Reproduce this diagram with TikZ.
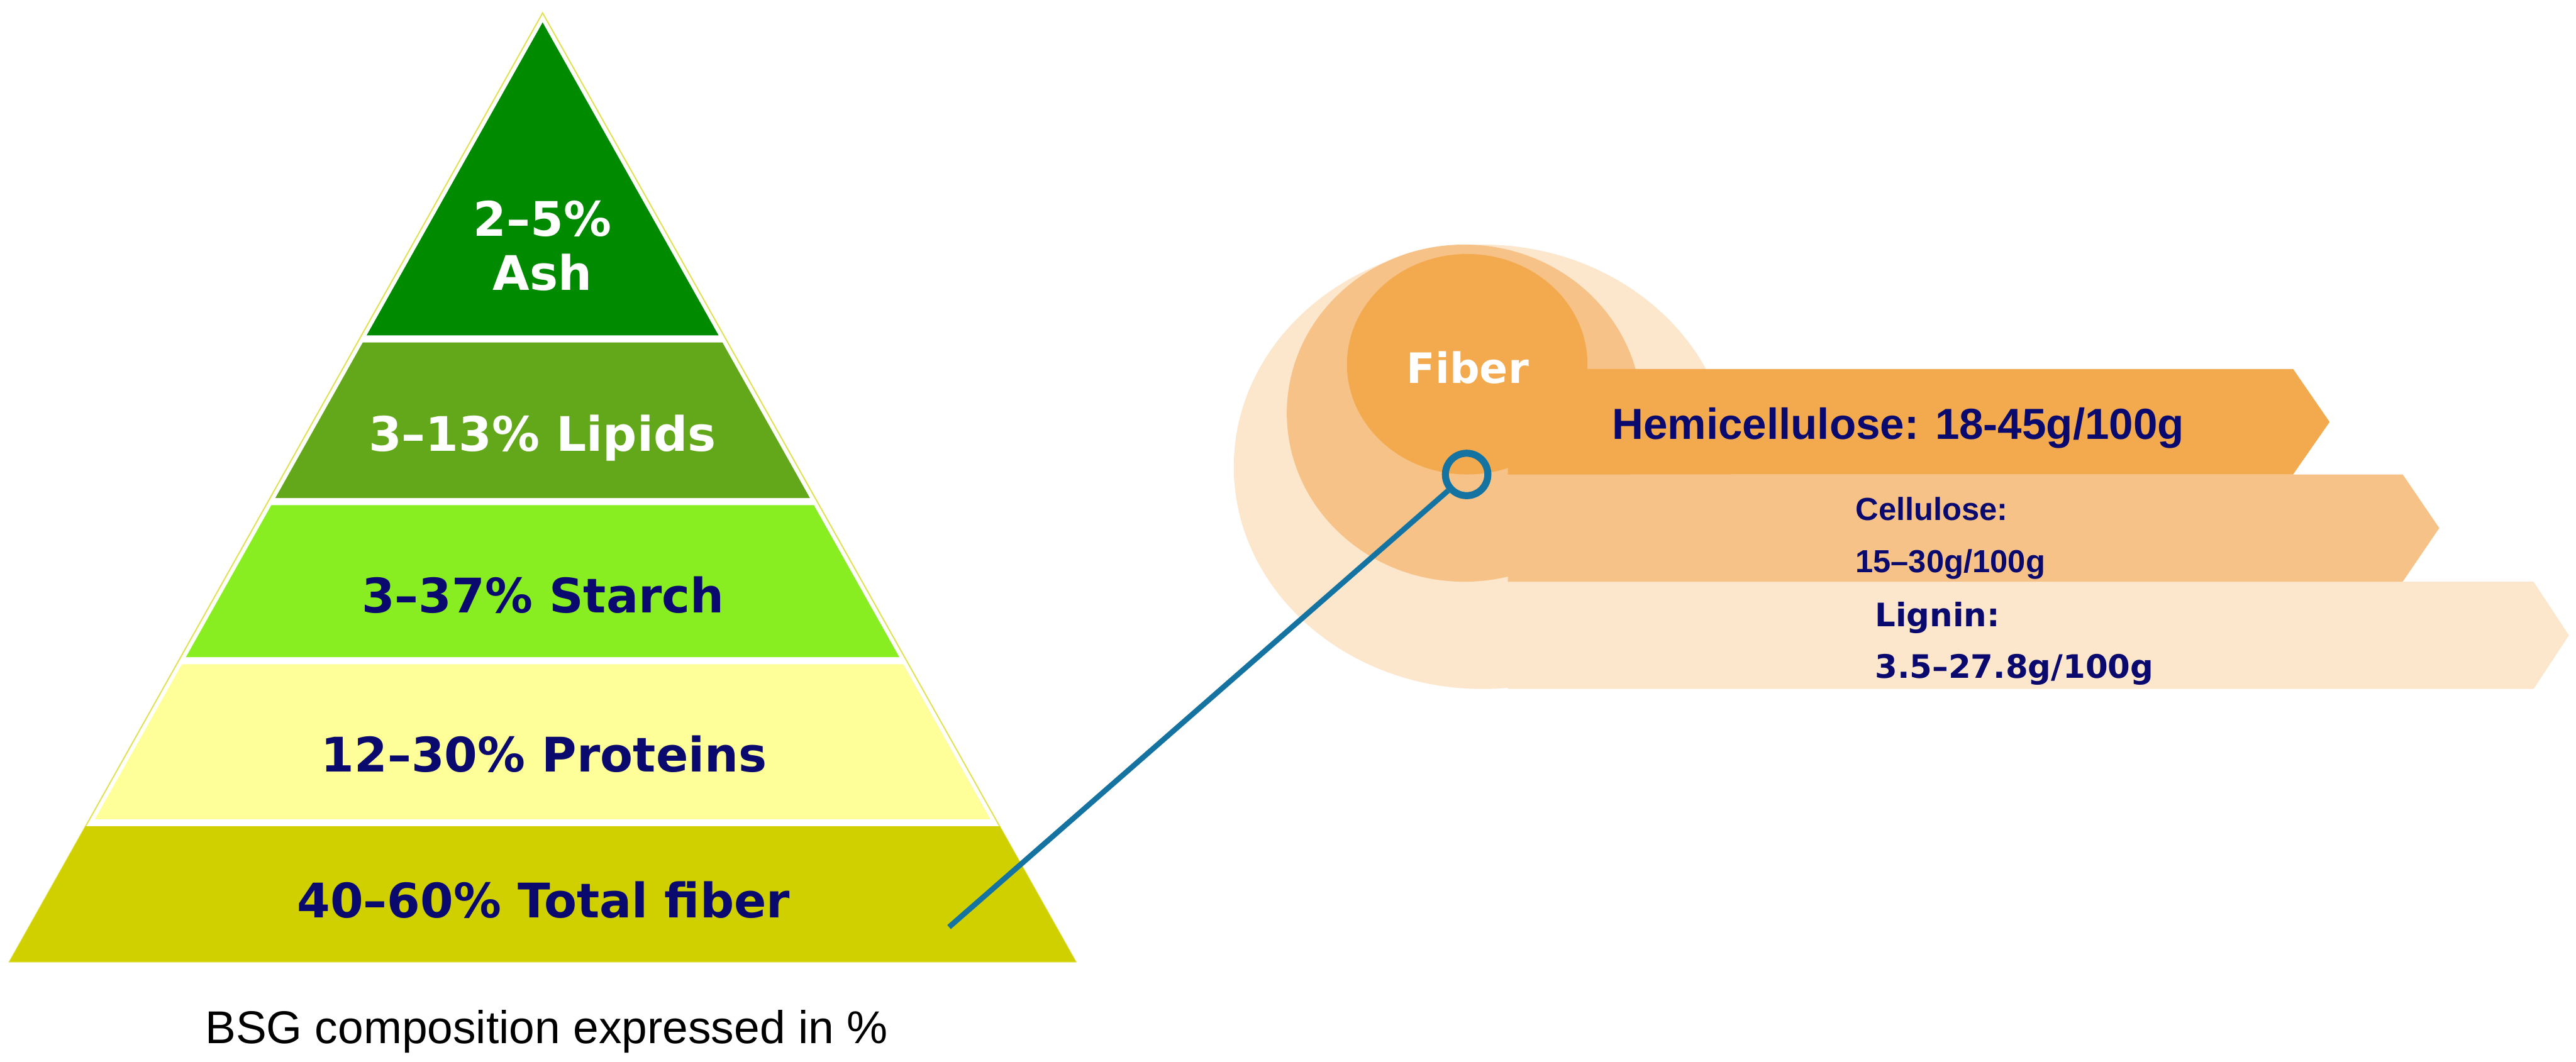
\documentclass[tikz,border=0pt]{standalone}
\usepackage{fontspec}
\setmainfont{Liberation Sans}
\newfontfamily\verdanalike{DejaVu Sans}
\usepackage{xcolor}
\usetikzlibrary{positioning}

\definecolor{ashgreen}{RGB}{0,138,0}
\definecolor{lipidgreen}{RGB}{98,168,26}
\definecolor{starchgreen}{RGB}{136,238,34}
\definecolor{proteinyellow}{RGB}{255,255,153}
\definecolor{fiberolive}{RGB}{208,208,0}
\definecolor{rimyellow}{RGB}{224,224,80}
\definecolor{navytext}{RGB}{10,10,110}
\definecolor{hemiorange}{RGB}{243,170,78}
\definecolor{cellorange}{RGB}{246,194,135}
\definecolor{ligninpeach}{RGB}{252,230,204}
\definecolor{pinblue}{RGB}{20,115,160}

\begin{document}
\begin{tikzpicture}[
        pyrlabel/.style={font=\verdanalike\bfseries\fontsize{23}{26.2}\selectfont, inner sep=0pt, align=center},
        partlabel/.style={text=navytext, inner sep=0pt, align=left, anchor=west}
    ]
            \useasboundingbox (0,0) rectangle (43.70,-18.01);

            % Fiber shells, lightest one first
            \fill[ligninpeach] (25.15,-7.92) ellipse [x radius=4.22, y radius=3.77];
            \fill[ligninpeach] (25.58,-9.87) -- (42.98,-9.87) -- (43.58,-10.78) -- (42.98,-11.69) -- (25.58,-11.69) -- cycle;
            \fill[cellorange] (24.84,-7.01) ellipse [x radius=3.01, y radius=2.86];
            \fill[cellorange] (25.58,-8.05) -- (40.76,-8.05) -- (41.38,-8.96) -- (40.76,-9.87) -- (25.58,-9.87) -- cycle;
            \fill[hemiorange] (24.89,-6.18) ellipse [x radius=2.04, y radius=1.87];
            \fill[hemiorange] (25.58,-6.26) -- (38.90,-6.26) -- (39.52,-7.16) -- (38.90,-8.05) -- (25.58,-8.05) -- cycle;

            % Pyramid rim
            \draw[rimyellow, line width=0.6pt] (9.205,-0.22) -- (0.16,-16.32) -- (18.25,-16.32) -- cycle;

            % Pyramid bands, top to bottom
            \fill[ashgreen] (9.205,-0.38) -- (12.19,-5.69) -- (6.22,-5.69) -- cycle;
            \fill[lipidgreen] (6.155,-5.81) -- (12.255,-5.81) -- (13.739,-8.45) -- (4.671,-8.45) -- cycle;
            \fill[starchgreen] (4.604,-8.57) -- (13.806,-8.57) -- (15.256,-11.15) -- (3.154,-11.15) -- cycle;
            \fill[proteinyellow] (3.087,-11.27) -- (15.323,-11.27) -- (16.80,-13.90) -- (1.61,-13.90) -- cycle;
            \fill[fiberolive] (1.452,-14.02) -- (16.958,-14.02) -- (18.25,-16.32) -- (0.16,-16.32) -- cycle;

            % Band labels
            \node[pyrlabel, text=white] (ash) at (9.20,-4.17) {2–5\%\\Ash};
            \node[pyrlabel, text=white, anchor=base] (lipids) at (9.20,-7.65) {3–13\% Lipids};
            \node[pyrlabel, text=navytext, anchor=base] (starch) at (9.21,-10.40) {3–37\% Starch};
            \node[pyrlabel, text=navytext, anchor=base] (proteins) at (9.23,-13.10) {12–30\% Proteins};
            \node[pyrlabel, text=navytext, anchor=base] (totalfiber) at (9.22,-15.57) {40–60\% Total fiber};

            % Caption
            \node[font=\fontsize{22.2}{26}\selectfont, anchor=base] (caption) at (9.27,-17.70) {BSG composition expressed in \%};

            % Fiber parts
            \node[font=\verdanalike\bfseries\fontsize{20.2}{24}\selectfont, text=white, anchor=base] (fiber) at (24.90,-6.50) {Fiber};
            \node[font=\bfseries\fontsize{21}{25}\selectfont, text=navytext, anchor=base] (hemi) at (32.20,-7.45) {Hemicellulose: 18-45g/100g};
            \node[partlabel, font=\bfseries\fontsize{15.4}{25.3}\selectfont] (cellulose) at (31.47,-9.13) {Cellulose:\\15–30g/100g};
            \node[partlabel, font=\verdanalike\bfseries\fontsize{15.6}{24.8}\selectfont] (lignin) at (31.80,-10.92) {Lignin:\\3.5–27.8g/100g};

            % Pin from the fiber band to the shells
            \coordinate (fiberpt) at (16.10,-15.73);
            \node[circle, draw=pinblue, line width=3.4pt, minimum size=0.72cm, inner sep=0pt] (marker) at (24.88,-8.05) {};
            \draw[pinblue, line width=2.6pt] (fiberpt) -- (marker);
        \end{tikzpicture}
\end{document}
